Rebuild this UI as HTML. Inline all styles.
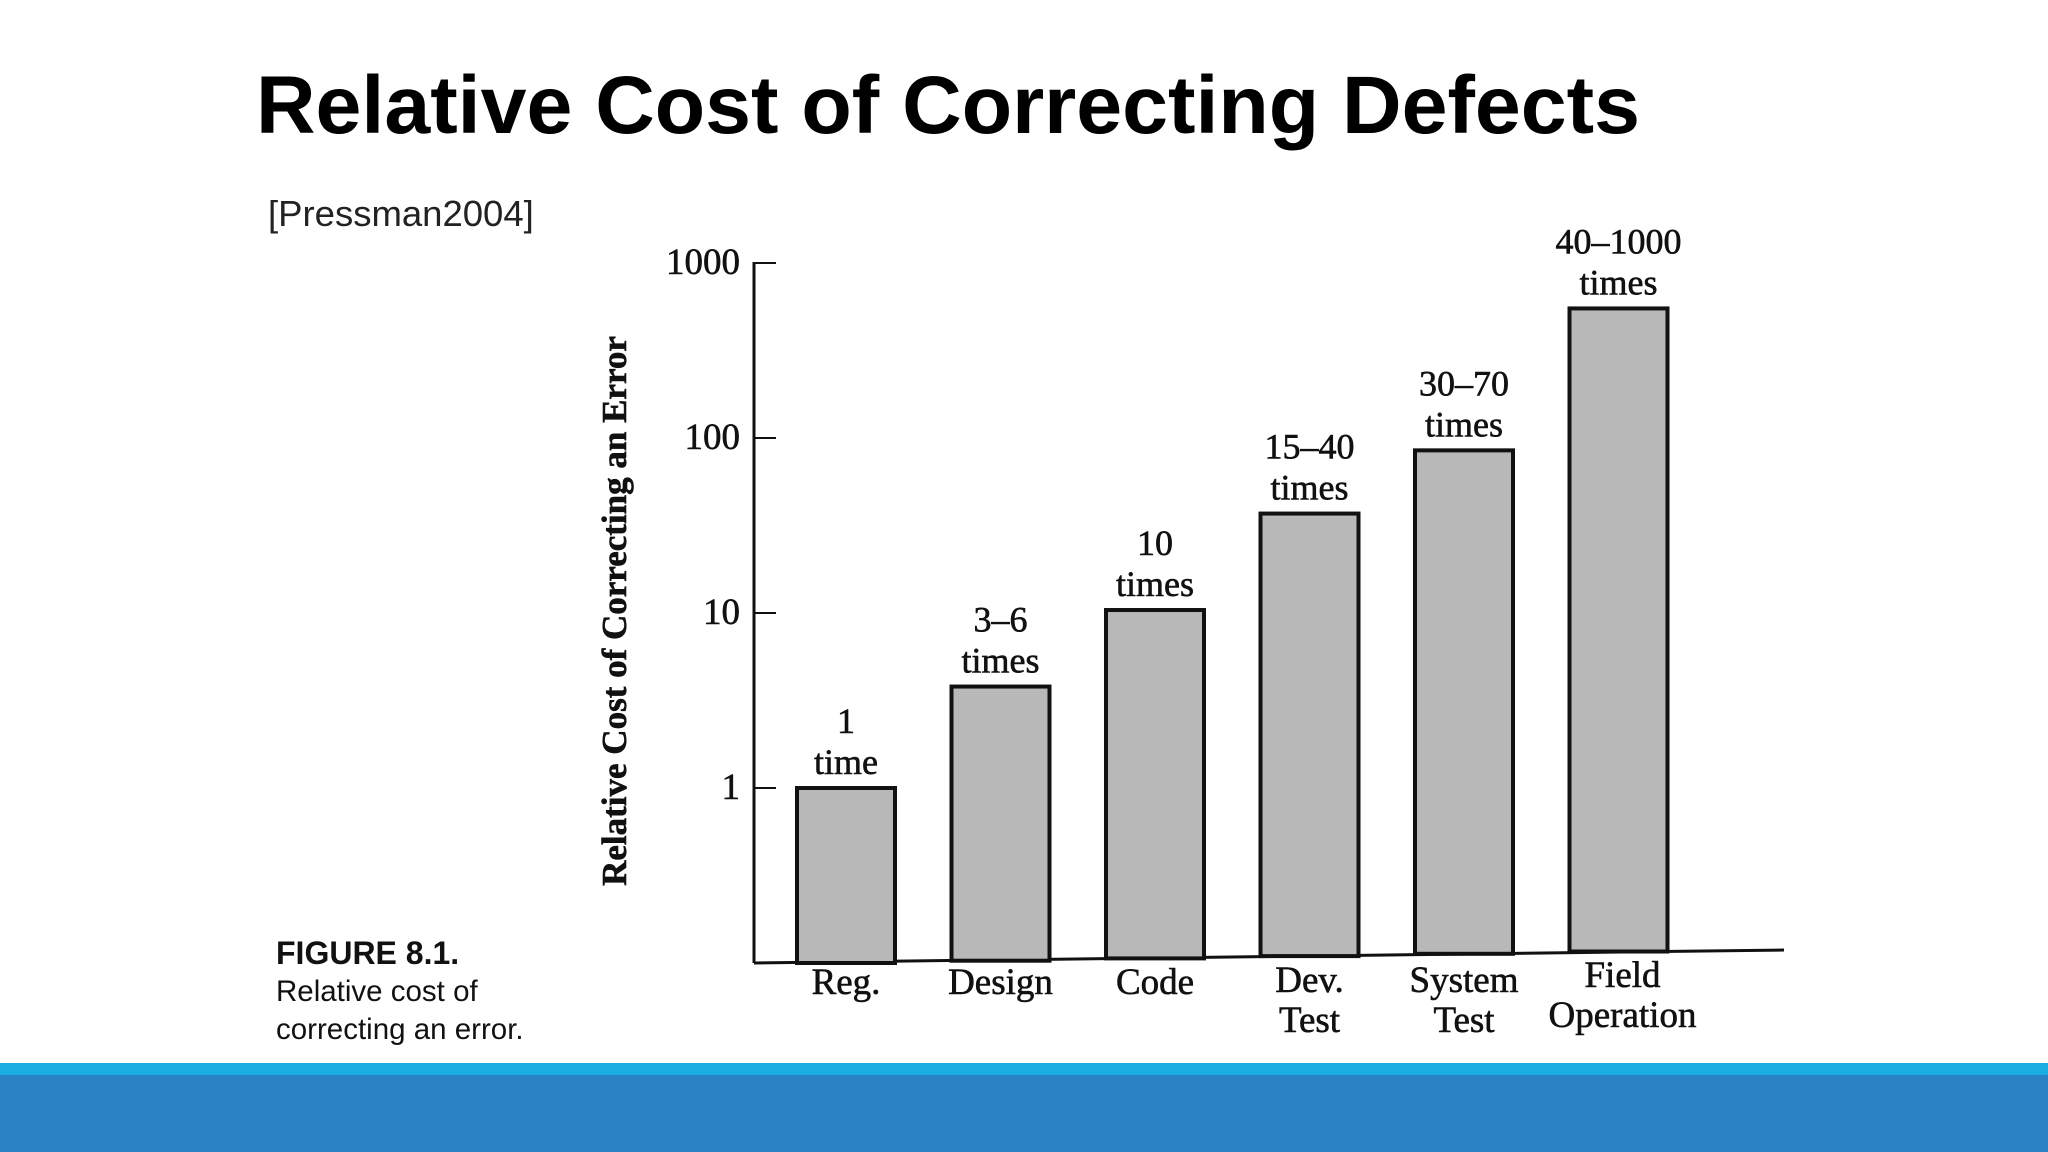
<!DOCTYPE html>
<html><head><meta charset="utf-8"><style>
html,body{margin:0;padding:0;background:#fff}
svg{display:block}
.serif{font-family:"Liberation Serif",serif;fill:#111;stroke:#111;stroke-width:0.6}
</style></head><body>
<svg width="2048" height="1152" viewBox="0 0 2048 1152" xmlns="http://www.w3.org/2000/svg">
<rect x="0" y="0" width="2048" height="1152" fill="#fff"/>
<text x="256" y="133" font-family="Liberation Sans, sans-serif" font-weight="bold" font-size="82" textLength="1384" lengthAdjust="spacingAndGlyphs" fill="#000">Relative Cost of Correcting Defects</text>
<text x="268" y="226" font-family="Liberation Sans, sans-serif" font-size="36.5" fill="#222">[Pressman2004]</text>
<text x="276" y="964" font-family="Liberation Sans, sans-serif" font-weight="bold" font-size="32" fill="#111">FIGURE 8.1.</text>
<text x="276" y="1001" font-family="Liberation Sans, sans-serif" font-size="29.5" fill="#111">Relative cost of</text>
<text x="276" y="1039" font-family="Liberation Sans, sans-serif" font-size="29.5" fill="#111">correcting an error.</text>
<g id="chart"></g>
<rect x="0" y="1063" width="2048" height="12" fill="#1aaee3"/>
<rect x="0" y="1075" width="2048" height="77" fill="#2882c3"/>
</svg>
<script>
const categories=[["Reg."],["Design"],["Code"],["Dev.","Test"],["System","Test"],["Field","Operation"]];
const values=[1,3.8,10.4,37,85,550];
const valueLabels=[["1","time"],["3–6","times"],["10","times"],["15–40","times"],["30–70","times"],["40–1000","times"]];
const tickValues=[1,10,100,1000];
const tickLabels=["1","10","100","1000"];
const NS="http://www.w3.org/2000/svg";
const g=document.getElementById('chart');
const axisX=754, y1=788, decade=175, baseY=963, barW=98, firstX=797, step=154.5;
function yScale(v){return y1-Math.log10(v)*decade;}
function xScale(i){return firstX+i*step;}
function mk(tag,attrs,parent){const e=document.createElementNS(NS,tag);for(const k in attrs)e.setAttribute(k,attrs[k]);(parent||g).appendChild(e);return e;}
let t=mk('text',{x:0,y:0,transform:'translate(626,611) rotate(-90)','text-anchor':'middle','font-size':'35','font-weight':'bold',class:'serif'});


t.textContent='Relative Cost of Correcting an Error';
let ax=mk('line',{x1:axisX,y1:baseY,x2:axisX,y2:262,stroke:'#111','stroke-width':3});


let bx=mk('line',{x1:axisX,y1:baseY,x2:1784,y2:950,stroke:'#111','stroke-width':3});


tickValues.forEach((v,i)=>{
  const y=yScale(v);
  const l=mk('line',{x1:axisX,y1:y,x2:axisX+22,y2:y,stroke:'#111','stroke-width':2});
  
  
  const tx=mk('text',{x:740,y:y+11,'text-anchor':'end','font-size':'37',class:'serif'});
  
  
  tx.textContent=tickLabels[i];
});
values.forEach((v,i)=>{
  const x=xScale(i), top=yScale(v), bot=baseY-i*2.3;
  const r=mk('rect',{x:x,y:top,width:barW,height:bot-top,fill:'#b8b8b8',stroke:'#111','stroke-width':4});
  
  
  valueLabels[i].forEach((s,j)=>{
    const tx=mk('text',{x:x+barW/2,y:top-55+j*41,'text-anchor':'middle','font-size':'36',class:'serif'});
    
    
    tx.textContent=s;
  });
  const n=categories[i].length;
  categories[i].forEach((s,j)=>{
    const yy=(n===1?994:(i===5?987:992))+j*40;
    const tx=mk('text',{x:x+barW/2+(i===5?4:0),y:yy,'text-anchor':'middle','font-size':'37',class:'serif'});
    
    
    tx.textContent=s;
  });
});
</script>
</body></html>
